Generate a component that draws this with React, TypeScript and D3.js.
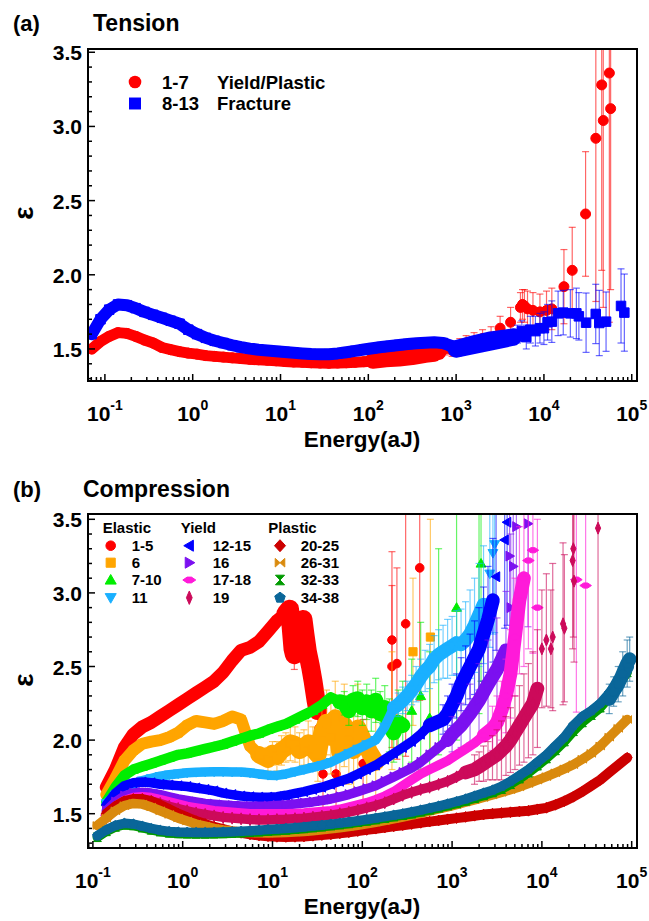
import React from 'react';
import * as d3 from 'd3';

const FONT = "'Liberation Sans', Arial, Helvetica, sans-serif";

// log-spaced energy bins (aJ) shared by all band series
const energyBins = [
  0.0708, 0.0891, 0.112, 0.141, 0.178, 0.224, 0.282, 0.355, 0.447, 0.562,
  0.708, 0.891, 1.12, 1.41, 1.78, 2.24, 2.82, 3.55, 4.47, 5.62,
  7.08, 8.91, 11.2, 14.1, 17.8, 22.4, 28.2, 35.5, 44.7, 56.2,
  70.8, 89.1, 112, 141, 178, 224, 282, 355, 447, 562,
  708, 891, 1122, 1413, 1778, 2239, 2818, 3548, 4467, 5623,
  7079, 8913, 11220, 14125, 17783, 22387, 28184, 35481, 44668, 56234,
  70795, 89125,
];

// ---------- (a) Tension ----------
const tensionYieldEps = [
  1.50, 1.55, 1.585, 1.61, 1.605, 1.585, 1.56, 1.54, 1.51, 1.495,
  1.482, 1.472, 1.465, 1.455, 1.45, 1.445, 1.44, 1.435, 1.43, 1.427,
  1.424, 1.42, 1.416, 1.412, 1.41, 1.407, 1.405, 1.404, 1.405, 1.407,
  1.41, 1.414, 1.418, 1.424, 1.43, 1.437, 1.444, 1.452, 1.46, 1.468,
];
const tensionFractureEps = [
  1.60, 1.70, 1.765, 1.80, 1.795, 1.775, 1.75, 1.73, 1.71, 1.69,
  1.67, 1.63, 1.60, 1.575, 1.555, 1.54, 1.525, 1.512, 1.502, 1.495,
  1.49, 1.485, 1.48, 1.475, 1.47, 1.466, 1.464, 1.465, 1.47, 1.478,
  1.487, 1.496, 1.505, 1.513, 1.52, 1.527, 1.533, 1.538, 1.542, 1.545,
  1.54, 1.52, 1.49, 1.52, 1.55, 1.56, 1.57, 1.575, 1.58,
];
// [energy, epsilon, error]
const tensionYieldCloud = [
  [112, 1.42, 0.02], [158, 1.43, 0.025], [224, 1.435, 0.03], [316, 1.445, 0.03], [447, 1.46, 0.035], [630, 1.48, 0.04],
];
const tensionYieldScatter = [
  [750, 1.50, 0.04], [900, 1.49, 0.04], [1100, 1.52, 0.05],
  [1300, 1.54, 0.05], [1600, 1.55, 0.06], [2000, 1.57, 0.06], [2500, 1.58, 0.07],
  [3170, 1.64, 0.08], [4170, 1.68, 0.1], [5400, 1.78, 0.1], [5700, 1.80, 0.1],
  [6000, 1.79, 0.11], [6500, 1.77, 0.12], [7500, 1.76, 0.12], [9000, 1.75, 0.12],
  [10700, 1.76, 0.13], [12300, 1.77, 0.14], [16900, 1.92, 0.25], [21000, 2.03, 0.29],
  [29800, 2.41, 0.42], [39000, 2.92, 1.1], [45500, 3.28, 1.25], [47400, 3.04, 1.26],
  [55600, 3.36, 1.68], [57500, 3.12, 1.22],
];
const tensionFractureCloud = [
  [1000, 1.50, 0.03], [1500, 1.53, 0.04], [2500, 1.56, 0.05], [4467, 1.58, 0.05],
];
const tensionFractureScatter = [
  [5000, 1.60, 0.06], [5600, 1.62, 0.07], [6300, 1.58, 0.08], [7000, 1.63, 0.09],
  [8000, 1.62, 0.1], [9000, 1.64, 0.1], [10000, 1.64, 0.11], [11000, 1.68, 0.12],
  [12300, 1.684, 0.14], [14500, 1.74, 0.15], [16600, 1.745, 0.15], [20000, 1.74, 0.16],
  [23400, 1.74, 0.17], [25000, 1.72, 0.16], [30200, 1.677, 0.2], [38900, 1.736, 0.2],
  [42700, 1.675, 0.22], [51000, 1.684, 0.2], [75500, 1.79, 0.25], [82400, 1.745, 0.26],
];

// ---------- (b) Compression ----------
const n = null;
const comp1to5Eps = [n, n, n, 1.68, 1.80, 1.95, 2.04, 2.09, 2.12, 2.16, 2.20, 2.24, 2.28, 2.32, 2.36, 2.40, 2.46, 2.54, 2.61, 2.63, 2.67, 2.74, 2.81, 2.86];
const comp1to5Cloud = [
  [15.5, 2.89, 0.04], [16.9, 2.62, 0.08], [17.5, 2.58, 0.1], [18.0, 2.68, 0.1], [19.2, 2.75, 0.08], [20.5, 2.80, 0.06],
  [21.9, 2.82, 0.05], [23.0, 2.72, 0.08], [24.5, 2.60, 0.1], [26.5, 2.50, 0.1], [28.3, 2.40, 0.12],
  [30.5, 2.27, 0.12], [32, 2.20, 0.12],
];
const comp1to5Scatter = [
  [33, 2.08, 0.2], [36.5, 1.77, 0.3], [51, 1.77, 0.25], [102, 1.84, 0.3],
  [214, 2.68, 0.6], [214, 2.50, 0.55], [243, 2.52, 0.65], [304, 2.79, 0.9], [436, 3.17, 0.9],
];
const comp6Eps = [n, n, n, 1.63, 1.74, 1.86, 1.93, 1.975, 1.99, 2.0, 2.02, 2.05, 2.10, 2.13, 2.12, 2.11, 2.13, 2.16, 2.14, 1.96, 1.90];
const comp6Cloud = [
  [8.9, 1.87, 0.08], [10, 1.91, 0.08], [11.2, 1.89, 0.1], [12.6, 1.93, 0.1], [14.1, 1.95, 0.1],
  [15.8, 1.98, 0.12], [17.8, 1.97, 0.12], [20, 1.93, 0.12], [22.4, 1.95, 0.12], [25, 1.98, 0.15],
  [28.2, 1.94, 0.15], [32, 1.90, 0.18], [35.5, 2.05, 0.2], [40, 2.12, 0.22], [44.7, 2.02, 0.25],
  [50, 2.15, 0.25], [56.2, 1.92, 0.22], [63, 2.10, 0.28], [70.8, 2.0, 0.3], [80, 1.93, 0.3],
  [89.1, 2.08, 0.3], [112, 1.95, 0.3], [141, 1.85, 0.3],
];
const comp6Scatter = [[214, 2.2, 0.4], [367, 2.6, 0.5], [573, 2.7, 0.8]];
const comp7to10Eps = [n, n, n, 1.58, 1.68, 1.76, 1.80, 1.82, 1.84, 1.86, 1.88, 1.90, 1.91, 1.925, 1.94, 1.955, 1.97, 1.99, 2.01, 2.03, 2.045, 2.07, 2.09, 2.11, 2.14, 2.17, 2.20, 2.24, 2.29, 2.26];
const comp7to10Cloud = [
  [63, 2.25, 0.08], [70.8, 2.20, 0.1], [79, 2.27, 0.1], [89.1, 2.28, 0.12], [100, 2.22, 0.12],
  [112, 2.26, 0.12], [126, 2.20, 0.14], [141, 2.27, 0.15], [158, 2.18, 0.15], [178, 2.22, 0.15],
  [200, 2.10, 0.18], [224, 2.05, 0.2], [251, 2.12, 0.22], [282, 2.1, 0.3],
];
const comp7to10Scatter = [
  [355, 2.2, 0.35], [447, 2.3, 0.5], [562, 2.15, 0.45], [708, 2.6, 0.7], [1122, 2.9, 0.9], [1995, 2.88, 0.7], [2100, 3.2, 0.8],
];
const comp11Eps = [n, n, n, 1.57, 1.63, 1.67, 1.70, 1.725, 1.74, 1.755, 1.765, 1.772, 1.778, 1.782, 1.784, 1.785, 1.785, 1.784, 1.783, 1.778, 1.77, 1.762, 1.76, 1.77, 1.785, 1.80, 1.815, 1.83, 1.85, 1.88, 1.91, 1.94, 1.97, 2.00, 2.09, 2.22];
const comp11Cloud = [
  [251, 2.24, 0.08], [282, 2.27, 0.09], [316, 2.30, 0.1], [355, 2.34, 0.1], [398, 2.38, 0.12],
  [447, 2.43, 0.12], [501, 2.47, 0.14], [562, 2.50, 0.15], [631, 2.55, 0.16], [708, 2.58, 0.17],
  [794, 2.60, 0.18], [891, 2.62, 0.2], [1000, 2.64, 0.2], [1122, 2.66, 0.22], [1259, 2.65, 0.24],
  [1413, 2.68, 0.26], [1585, 2.72, 0.3], [1778, 2.78, 0.32], [1995, 2.85, 0.35], [2239, 2.92, 0.4],
];
const comp11Scatter = [[2630, 3.13, 0.5], [2850, 3.27, 0.55], [2980, 3.33, 0.6]];
const comp12to15Eps = [n, n, n, 1.56, 1.64, 1.69, 1.71, 1.715, 1.71, 1.70, 1.695, 1.69, 1.685, 1.675, 1.665, 1.655, 1.64, 1.63, 1.62, 1.615, 1.612, 1.612, 1.615, 1.625, 1.638, 1.65, 1.665, 1.68, 1.70, 1.72, 1.74, 1.77, 1.80, 1.83, 1.87, 1.91, 1.95, 1.99, 2.04, 2.10];
const comp12to15Cloud = [
  [794, 2.14, 0.1], [891, 2.18, 0.12], [1000, 2.24, 0.14], [1122, 2.30, 0.15], [1259, 2.38, 0.18],
  [1413, 2.44, 0.2], [1585, 2.50, 0.22], [1778, 2.56, 0.25], [1995, 2.62, 0.28], [2239, 2.72, 0.32],
  [2512, 2.82, 0.36], [2850, 2.95, 0.42],
];
const comp12to15Scatter = [[3090, 3.11, 0.5], [3850, 3.36, 0.6], [4100, 3.48, 0.7]];
const comp16Eps = [n, n, n, 1.52, 1.58, 1.62, 1.64, 1.645, 1.64, 1.63, 1.615, 1.60, 1.59, 1.58, 1.57, 1.565, 1.56, 1.555, 1.552, 1.55, 1.55, 1.552, 1.556, 1.56, 1.566, 1.573, 1.58, 1.59, 1.60, 1.615, 1.63, 1.65, 1.67, 1.69, 1.72, 1.75, 1.78, 1.81, 1.85, 1.90, 1.95, 2.0];
const comp16Cloud = [
  [1000, 2.04, 0.12], [1259, 2.10, 0.15], [1585, 2.18, 0.2], [1995, 2.27, 0.25], [2512, 2.38, 0.3],
  [3162, 2.48, 0.35], [3981, 2.61, 0.4],
];
const comp16Scatter = [[4370, 3.25, 0.6], [4500, 2.9, 0.5], [4800, 3.18, 0.6], [5200, 3.45, 0.7], [7000, 3.47, 0.7]];
const comp17to18Eps = [n, n, n, 1.49, 1.55, 1.59, 1.61, 1.615, 1.61, 1.595, 1.58, 1.565, 1.55, 1.54, 1.53, 1.52, 1.515, 1.51, 1.505, 1.50, 1.50, 1.50, 1.50, 1.50, 1.502, 1.505, 1.51, 1.515, 1.52, 1.53, 1.545, 1.56, 1.575, 1.595, 1.62, 1.65, 1.69, 1.73, 1.77, 1.80, 1.83, 1.86, 1.90, 1.94, 1.98, 2.03];
const comp17to18Cloud = [
  [2818, 2.08, 0.15], [3162, 2.12, 0.18], [3548, 2.20, 0.2], [3981, 2.30, 0.25], [4467, 2.45, 0.3],
  [5012, 2.70, 0.4], [5623, 2.95, 0.5], [6310, 3.10, 0.6],
];
const comp17to18Scatter = [[7079, 3.22, 0.6], [7943, 3.29, 0.7], [8913, 2.90, 0.6], [24200, 3.09, 0.9], [30700, 3.05, 0.9]];
const comp19Eps = [n, n, n, 1.47, 1.53, 1.57, 1.59, 1.595, 1.585, 1.57, 1.55, 1.535, 1.52, 1.505, 1.495, 1.485, 1.475, 1.47, 1.465, 1.46, 1.458, 1.458, 1.46, 1.462, 1.466, 1.47, 1.476, 1.483, 1.49, 1.50, 1.51, 1.525, 1.54, 1.555, 1.575, 1.60, 1.625, 1.645, 1.665, 1.68, 1.70, 1.72, 1.75, 1.78];
const comp19Cloud = [
  [1778, 1.80, 0.1], [2000, 1.82, 0.1], [2239, 1.84, 0.12], [2512, 1.86, 0.13], [2818, 1.88, 0.15],
  [3162, 1.90, 0.17], [3548, 1.93, 0.2], [3981, 1.96, 0.2], [4467, 2.00, 0.22], [5012, 2.05, 0.25],
  [5623, 2.10, 0.27], [6310, 2.15, 0.3], [7079, 2.20, 0.32], [7943, 2.25, 0.35], [8913, 2.35, 0.4],
];
const comp19Scatter = [
  [10000, 2.62, 0.4], [11220, 2.68, 0.45], [12600, 2.62, 0.4], [13200, 2.70, 0.5], [17200, 2.79, 0.55], [17800, 2.76, 0.5],
  [22000, 3.22, 0.6], [22400, 3.30, 0.6], [22800, 3.08, 0.55], [42200, 3.44, 1.2],
];
const comp20to25Eps = [n, n, n, 1.50, 1.55, 1.585, 1.60, 1.60, 1.585, 1.56, 1.53, 1.50, 1.475, 1.45, 1.43, 1.41, 1.395, 1.38, 1.37, 1.36, 1.352, 1.347, 1.343, 1.342, 1.343, 1.345, 1.35, 1.355, 1.36, 1.367, 1.374, 1.382, 1.39, 1.398, 1.406, 1.414, 1.422, 1.43, 1.438, 1.446, 1.454, 1.462, 1.47, 1.478, 1.486, 1.494, 1.50, 1.505, 1.51, 1.515, 1.52, 1.53, 1.54, 1.56, 1.585, 1.615, 1.65, 1.69, 1.73, 1.78, 1.83, 1.88];
const comp26to31Eps = [n, n, 1.42, 1.47, 1.52, 1.555, 1.57, 1.565, 1.545, 1.52, 1.495, 1.47, 1.45, 1.43, 1.415, 1.40, 1.39, 1.382, 1.376, 1.372, 1.37, 1.369, 1.37, 1.372, 1.375, 1.379, 1.384, 1.39, 1.397, 1.405, 1.413, 1.422, 1.432, 1.442, 1.453, 1.465, 1.477, 1.49, 1.503, 1.517, 1.532, 1.547, 1.562, 1.578, 1.594, 1.61, 1.627, 1.645, 1.663, 1.682, 1.705, 1.728, 1.752, 1.778, 1.805, 1.833, 1.87, 1.91, 1.96, 2.02, 2.08, 2.14];
const comp32to33Eps = [n, n, 1.34, 1.38, 1.41, 1.425, 1.42, 1.405, 1.39, 1.378, 1.37, 1.366, 1.364, 1.363, 1.363, 1.364, 1.366, 1.368, 1.371, 1.374, 1.378, 1.382, 1.386, 1.39, 1.395, 1.40, 1.406, 1.412, 1.419, 1.426, 1.434, 1.442, 1.451, 1.46, 1.47, 1.48, 1.49, 1.50, 1.513, 1.526, 1.54, 1.555, 1.57, 1.587, 1.605, 1.624, 1.644, 1.667, 1.70, 1.738, 1.778, 1.826, 1.875, 1.93, 1.99, 2.06, 2.12, 2.17, 2.22, 2.29, 2.37, 2.46];
const comp34to38Eps = [n, n, 1.35, 1.39, 1.42, 1.435, 1.43, 1.415, 1.40, 1.388, 1.38, 1.376, 1.374, 1.373, 1.373, 1.374, 1.376, 1.378, 1.381, 1.384, 1.388, 1.392, 1.396, 1.40, 1.405, 1.41, 1.416, 1.422, 1.429, 1.436, 1.444, 1.452, 1.461, 1.47, 1.48, 1.49, 1.50, 1.512, 1.525, 1.538, 1.552, 1.567, 1.583, 1.60, 1.62, 1.64, 1.66, 1.685, 1.72, 1.76, 1.80, 1.85, 1.90, 1.96, 2.02, 2.10, 2.16, 2.20, 2.25, 2.32, 2.40, 2.50];
const comp34to38Cloud = [
  [56234, 2.28, 0.1], [63000, 2.33, 0.1], [70795, 2.38, 0.12], [79433, 2.45, 0.15], [89125, 2.52, 0.16], [95000, 2.55, 0.15],
];

const xTickExponents = [-1, 0, 1, 2, 3, 4, 5];
const yTickLabels = [1.5, 2.0, 2.5, 3.0, 3.5];

function symbolPath(sym: string, r: number): string {
  const p = (pts: number[][]) => 'M' + pts.map((q) => `${q[0] * r},${q[1] * r}`).join('L') + 'Z';
  switch (sym) {
    case 'circle':
      return `M${r},0A${r},${r} 0 1,1 ${-r},0A${r},${r} 0 1,1 ${r},0Z`;
    case 'square':
      return p([[-0.95, -0.95], [0.95, -0.95], [0.95, 0.95], [-0.95, 0.95]]);
    case 'triUp':
      return p([[0, -1.15], [1.15, 0.85], [-1.15, 0.85]]);
    case 'triDown':
      return p([[0, 1.15], [1.15, -0.85], [-1.15, -0.85]]);
    case 'triLeft':
      return p([[-1.15, 0], [0.85, -1.15], [0.85, 1.15]]);
    case 'triRight':
      return p([[1.15, 0], [-0.85, -1.15], [-0.85, 1.15]]);
    case 'diamond':
      return p([[0, -1.25], [1.15, 0], [0, 1.25], [-1.15, 0]]);
    case 'wideDiamond':
      return p([[-1.35, 0], [-0.45, -0.6], [0.45, -0.6], [1.35, 0], [0.45, 0.6], [-0.45, 0.6]]);
    case 'tallDiamond':
      return p([[0, -1.4], [0.6, 0], [0, 1.4], [-0.6, 0]]);
    case 'bowtie':
      return p([[-1, -0.9], [0, 0], [-1, 0.9]]) + p([[1, -0.9], [0, 0], [1, 0.9]]);
    case 'hourglass':
      return p([[-0.95, -1], [0.95, -1], [0, 0]]) + p([[-0.95, 1], [0.95, 1], [0, 0]]);
    case 'pentagon': {
      const pts = d3.range(5).map((k) => {
        const a = -Math.PI / 2 + (k * 2 * Math.PI) / 5;
        return [1.15 * Math.cos(a), 1.15 * Math.sin(a)];
      });
      return p(pts);
    }
    default:
      return '';
  }
}

interface SeriesDef {
  label: string;
  color: string;
  sym: string;
  width: number;
  band: (number | null)[];
  cloud: number[][];
  scatter: number[][];
}

const tensionSeries: SeriesDef[] = [
  { label: '1-7', color: '#ff0000', sym: 'circle', width: 11, band: tensionYieldEps, cloud: tensionYieldCloud, scatter: tensionYieldScatter },
  { label: '8-13', color: '#0000ff', sym: 'square', width: 12, band: tensionFractureEps, cloud: tensionFractureCloud, scatter: tensionFractureScatter },
];

const compressionSeries: SeriesDef[] = [
  { label: '1-5', color: '#ff0000', sym: 'circle', width: 13, band: comp1to5Eps, cloud: comp1to5Cloud, scatter: comp1to5Scatter },
  { label: '6', color: '#ffa500', sym: 'square', width: 12, band: comp6Eps, cloud: comp6Cloud, scatter: comp6Scatter },
  { label: '7-10', color: '#00ee00', sym: 'triUp', width: 10.5, band: comp7to10Eps, cloud: comp7to10Cloud, scatter: comp7to10Scatter },
  { label: '11', color: '#1ab0ff', sym: 'triDown', width: 9.5, band: comp11Eps, cloud: comp11Cloud, scatter: comp11Scatter },
  { label: '12-15', color: '#0000ff', sym: 'triLeft', width: 9.5, band: comp12to15Eps, cloud: comp12to15Cloud, scatter: comp12to15Scatter },
  { label: '16', color: '#7b10f0', sym: 'triRight', width: 9.5, band: comp16Eps, cloud: comp16Cloud, scatter: comp16Scatter },
  { label: '17-18', color: '#ff1ad9', sym: 'wideDiamond', width: 9.5, band: comp17to18Eps, cloud: comp17to18Cloud, scatter: comp17to18Scatter },
  { label: '19', color: '#cc0a5a', sym: 'tallDiamond', width: 9.5, band: comp19Eps, cloud: comp19Cloud, scatter: comp19Scatter },
  { label: '20-25', color: '#cc0000', sym: 'diamond', width: 10, band: comp20to25Eps, cloud: [], scatter: [] },
  { label: '26-31', color: '#d98a0e', sym: 'bowtie', width: 9.5, band: comp26to31Eps, cloud: [], scatter: [] },
  { label: '32-33', color: '#009a00', sym: 'hourglass', width: 9.5, band: comp32to33Eps, cloud: [], scatter: [] },
  { label: '34-38', color: '#0a6699', sym: 'pentagon', width: 9.5, band: comp34to38Eps, cloud: comp34to38Cloud, scatter: [] },
];

interface Frame {
  left: number;
  right: number;
  top: number;
  bottom: number;
}

function errorBars(pts: number[][], x: any, y: any, color: string, key: string) {
  const cap = 3.5;
  return pts.map((d, i) => {
    const cx = x(d[0]);
    const y1 = y(d[1] + d[2]);
    const y2 = y(d[1] - d[2]);
    return (
      <g key={key + i} stroke={color} strokeOpacity={0.6} strokeWidth={1.2}>
        <line x1={cx} x2={cx} y1={y1} y2={y2} />
        <line x1={cx - cap} x2={cx + cap} y1={y1} y2={y1} />
        <line x1={cx - cap} x2={cx + cap} y1={y2} y2={y2} />
      </g>
    );
  });
}

function renderSeries(
  s: SeriesDef,
  x: d3.ScaleLogarithmic<number, number>,
  y: d3.ScaleLinear<number, number>,
  r: number,
  key: string
) {
  const bandPts: [number, number][] = [];
  s.band.forEach((v, i) => {
    if (v != null) bandPts.push([energyBins[i], v]);
  });
  const cloudPts: [number, number][] = s.cloud.map((d) => [d[0], d[1]]);
  const cloudLine: [number, number][] = cloudPts.length && bandPts.length ? [bandPts[bandPts.length - 1], ...cloudPts] : cloudPts;
  const allPts = [...bandPts, ...cloudPts];
  const line = d3
    .line<[number, number]>()
    .x((d) => x(d[0]))
    .y((d) => y(d[1]));
  const sp = symbolPath(s.sym, r);
  return (
    <g key={key}>
      {errorBars(s.cloud, x, y, s.color, 'c')}
      <path d={line(bandPts) || ''} fill="none" stroke={s.color} strokeWidth={s.width} strokeLinejoin="round" strokeLinecap="round" />
      {cloudLine.length > 1 && (
        <path d={line(cloudLine) || ''} fill="none" stroke={s.color} strokeWidth={s.width * 1.45} strokeLinejoin="round" strokeLinecap="round" />
      )}
      {allPts.map((d, i) => (
        <path key={'b' + i} d={sp} transform={`translate(${x(d[0])},${y(d[1])})`} fill={s.color} stroke={s.color} strokeWidth={1} />
      ))}
      {errorBars(s.scatter, x, y, s.color, 'e')}
      {s.scatter.map((d, i) => (
        <path key={'s' + i} d={sp} transform={`translate(${x(d[0])},${y(d[1])})`} fill={s.color} stroke={s.color} strokeWidth={1} />
      ))}
    </g>
  );
}

function renderAxes(
  x: d3.ScaleLogarithmic<number, number>,
  y: d3.ScaleLinear<number, number>,
  f: Frame,
  epsCenterY: number
) {
  const [d0, d1] = x.domain();
  const xt = x.ticks().filter((v) => v >= d0 && v <= d1);
  const isMajorX = (v: number) => Math.abs(Math.log10(v) - Math.round(Math.log10(v))) < 1e-6;
  const [y0, y1] = y.domain();
  const yt = d3.ticks(1.3, 3.5, 22).filter((v) => v >= y0 && v <= y1);
  const isMajorY = (v: number) => Math.abs(v * 2 - Math.round(v * 2)) < 1e-6;
  return (
    <g>
      {xt.map((v, i) => (
        <line key={'xt' + i} x1={x(v)} x2={x(v)} y1={f.bottom} y2={f.bottom - (isMajorX(v) ? 7 : 4)} stroke="#000" strokeWidth={1.5} />
      ))}
      {yt.map((v, i) => (
        <line key={'yt' + i} x1={f.left} x2={f.left + (isMajorY(v) ? 7 : 4)} y1={y(v)} y2={y(v)} stroke="#000" strokeWidth={1.5} />
      ))}
      <rect x={f.left} y={f.top} width={f.right - f.left} height={f.bottom - f.top} fill="none" stroke="#000" strokeWidth={2} />
      {xTickExponents.map((e) => (
        <text key={'xl' + e} x={x(Math.pow(10, e))} y={f.bottom + 40} textAnchor="middle" fontSize={21} fontWeight="bold">
          <tspan>10</tspan>
          <tspan dy={-11} fontSize={14}>{String(e)}</tspan>
        </text>
      ))}
      {yTickLabels.map((v) => (
        <text key={'yl' + v} x={82} y={y(v) + 8} textAnchor="end" fontSize={21} fontWeight="bold">
          {v.toFixed(1)}
        </text>
      ))}
      <text x={362} y={f.bottom + 66} textAnchor="middle" fontSize={22.5} fontWeight="bold">
        Energy(aJ)
      </text>
      <text transform={`translate(33,${epsCenterY}) rotate(-90)`} textAnchor="middle" fontSize={28} fontWeight="bold">
        ε
      </text>
    </g>
  );
}

export default function App() {
  const fa: Frame = { left: 88, right: 637, top: 49, bottom: 381 };
  const fb: Frame = { left: 88, right: 637, top: 514, bottom: 848 };
  const xa = d3.scaleLog().domain([0.0642, 114800]).range([fa.left, fa.right]);
  const ya = d3.scaleLinear().domain([1.284, 3.522]).range([fa.bottom, fa.top]);
  const xb = d3.scaleLog().domain([0.0882, 114600]).range([fb.left, fb.right]);
  const yb = d3.scaleLinear().domain([1.267, 3.536]).range([fb.bottom, fb.top]);

  const legendCols = [
    { head: 'Elastic', hx: 102.7, mx: 110.7, tx: 131.7, items: compressionSeries.slice(0, 4) },
    { head: 'Yield', hx: 180.7, mx: 189.3, tx: 212.7, items: compressionSeries.slice(4, 8) },
    { head: 'Plastic', hx: 268.3, mx: 280, tx: 300.7, items: compressionSeries.slice(8, 12) },
  ];
  const legendRowsY = [545.7, 562.7, 580, 597.7];

  return (
    <svg width={649} height={921} style={{ position: 'absolute', left: 0, top: 0 }} fontFamily={FONT}>
      <defs>
        <clipPath id="clipA">
          <rect x={fa.left} y={fa.top} width={fa.right - fa.left} height={fa.bottom - fa.top} />
        </clipPath>
        <clipPath id="clipB">
          <rect x={fb.left} y={fb.top} width={fb.right - fb.left} height={fb.bottom - fb.top} />
        </clipPath>
      </defs>
      <rect x={0} y={0} width={649} height={921} fill="#fff" />

      {/* Panel (a) */}
      <text x={13} y={31} fontSize={22} fontWeight="bold">(a)</text>
      <text x={93} y={31} fontSize={23} fontWeight="bold">Tension</text>
      <g clipPath="url(#clipA)">
        {tensionSeries.map((s, i) => renderSeries(s, xa, ya, 5, 'ta' + i))}
      </g>
      {renderAxes(xa, ya, fa, 213)}
      <g>
        <path d={symbolPath('circle', 6.3)} transform="translate(135,82)" fill="#ff0000" />
        <text x={162} y={88.5} fontSize={18.5} fontWeight="bold">1-7</text>
        <text x={217} y={88.5} fontSize={18.5} fontWeight="bold">Yield/Plastic</text>
        <path d={symbolPath('square', 6.3)} transform="translate(135,103.5)" fill="#0000ff" />
        <text x={162} y={110} fontSize={18.5} fontWeight="bold">8-13</text>
        <text x={217} y={110} fontSize={18.5} fontWeight="bold">Fracture</text>
      </g>

      {/* Panel (b) */}
      <text x={13} y={497} fontSize={22} fontWeight="bold">(b)</text>
      <text x={83} y={497} fontSize={23} fontWeight="bold">Compression</text>
      <g clipPath="url(#clipB)">
        {compressionSeries.map((s, i) => renderSeries(s, xb, yb, 4.3, 'cb' + i))}
      </g>
      {renderAxes(xb, yb, fb, 680)}
      <g>
        {legendCols.map((c) => (
          <g key={c.head}>
            <text x={c.hx} y={533.3} fontSize={15} fontWeight="bold">{c.head}</text>
            {c.items.map((s, j) => (
              <g key={s.label}>
                <path d={symbolPath(s.sym, 4.8)} transform={`translate(${c.mx},${legendRowsY[j]})`} fill={s.color} stroke={s.color} strokeWidth={1} />
                <text x={c.tx} y={legendRowsY[j] + 5.2} fontSize={15} fontWeight="bold">{s.label}</text>
              </g>
            ))}
          </g>
        ))}
      </g>
    </svg>
  );
}
